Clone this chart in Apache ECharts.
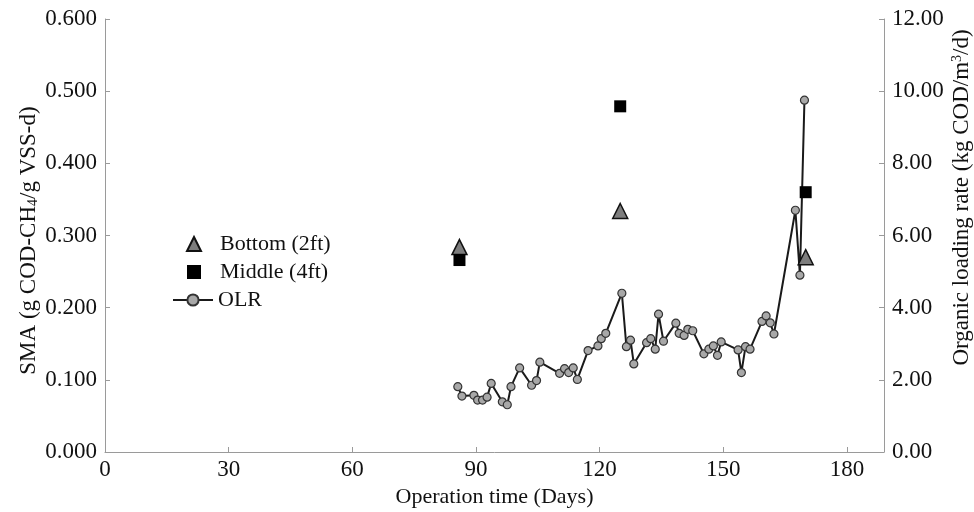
<!DOCTYPE html>
<html>
<head>
  <meta charset="utf-8">
  <title>SMA and OLR</title>
  <script src="https://cdn.jsdelivr.net/npm/echarts@6/dist/echarts.min.js"></script>
</head>
<body style="margin:0;background:#fff;">
  <div id="main" style="width:974px;height:512px;"></div>
  <script type="text/javascript">
    // SMA samples (left axis)
    var smaDays = [86, 125, 170];
    var bottom2ft = [0.284, 0.334, 0.270];
    var middle4ft = [0.266, 0.479, 0.360];

    // organic loading rate (right axis)
    var olrDays = [85.6, 86.6, 89.5, 90.4, 91.6, 92.7, 93.7, 96.4, 97.6, 98.5,
      100.6, 103.5, 104.7, 105.5, 110.3, 111.5, 112.5, 113.6, 114.6, 117.2,
      119.6, 120.4, 121.5, 125.4, 126.5, 127.5, 128.3, 131.4, 132.4, 133.5,
      134.3, 135.5, 138.5, 139.3, 140.5, 141.4, 142.6, 145.3, 146.5, 147.6,
      148.6, 149.5, 153.6, 154.4, 155.4, 156.5, 159.4, 160.4, 161.4, 162.3,
      167.5, 168.6, 169.7];
    var olr = [1.81, 1.55, 1.57, 1.44, 1.44, 1.52, 1.90, 1.39, 1.31, 1.81,
      2.33, 1.85, 1.98, 2.49, 2.18, 2.31, 2.20, 2.33, 2.01, 2.81,
      2.94, 3.14, 3.29, 4.40, 2.92, 3.10, 2.44, 3.03, 3.14, 2.85,
      3.82, 3.07, 3.57, 3.29, 3.23, 3.40, 3.36, 2.72, 2.85, 2.94,
      2.68, 3.05, 2.83, 2.20, 2.92, 2.85, 3.62, 3.77, 3.58, 3.27,
      6.70, 4.90, 9.75];

    var seriesNames = ['Bottom (2ft)', 'Middle (4ft)', 'OLR'];

    function pairs(xs, ys) {
      return xs.map(function (x, i) { return [x, ys[i]]; });
    }

    var font = 'Liberation Serif';
    var axisColor = '#9a9a9a';
    var legendText = { fontFamily: font, fontSize: 22, color: '#111' };

    var myChart = echarts.init(document.getElementById('main'));
    var option = {
      backgroundColor: '#fff',
      animation: false,
      textStyle: { fontFamily: font, color: '#111' },
      grid: { left: 105, right: 90, top: 19, bottom: 60, outerBoundsMode: 'none' },
      // two legends so the marker icons keep their size and the OLR icon stays long
      legend: [{
        data: seriesNames.slice(0, 2),
        orient: 'vertical',
        left: 186,
        top: 233,
        padding: 0,
        itemWidth: 14,
        itemHeight: 14,
        itemGap: 6,
        textStyle: Object.assign({ padding: [0, 0, 0, 14] }, legendText)
      }, {
        data: seriesNames.slice(2),
        orient: 'vertical',
        left: 172,
        top: 289,
        padding: 0,
        itemWidth: 40,
        itemHeight: 14,
        textStyle: legendText
      }],
      xAxis: {
        type: 'value',
        min: 0,
        max: 189,
        interval: 30,
        name: 'Operation time (Days)',
        nameLocation: 'middle',
        nameGap: 34,
        nameTextStyle: { fontFamily: font, fontSize: 22, color: '#111' },
        axisLine: { lineStyle: { color: axisColor } },
        axisTick: { inside: true, length: 5, lineStyle: { color: axisColor } },
        axisLabel: { showMaxLabel: false, margin: 6, fontFamily: font, fontSize: 23, color: '#111' },
        splitLine: { show: false }
      },
      yAxis: [{
        type: 'value',
        min: 0,
        max: 0.6,
        interval: 0.1,
        name: 'SMA (g COD-CH{sub|4}/g VSS-d)',
        nameLocation: 'middle',
        nameRotate: 90,
        nameGap: 65,
        nameMoveOverlap: false,
        nameTextStyle: {
          fontFamily: font, fontSize: 23, color: '#111',
          padding: [0, 10, 0, 0],
          rich: { sub: { fontFamily: font, fontSize: 14, verticalAlign: 'bottom', padding: [8, 0, 0, 0], color: '#111' } }
        },
        axisLine: { show: true, lineStyle: { color: axisColor } },
        axisTick: { show: true, inside: true, length: 5, lineStyle: { color: axisColor } },
        axisLabel: {
          margin: 8, fontFamily: font, fontSize: 23, color: '#111',
          formatter: function (v) { return v.toFixed(3); }
        },
        splitLine: { show: false }
      }, {
        type: 'value',
        min: 0,
        max: 12,
        interval: 2,
        position: 'right',
        name: 'Organic loading rate (kg COD/m{sup|3}/d)',
        nameLocation: 'middle',
        nameRotate: 90,
        nameGap: 66,
        nameMoveOverlap: false,
        nameTextStyle: {
          fontFamily: font, fontSize: 23, color: '#111',
          padding: [0, 0, 0, 76],
          rich: { sup: { fontFamily: font, fontSize: 14, verticalAlign: 'top', padding: [0, 0, 8, 0], color: '#111' } }
        },
        axisLine: { show: true, lineStyle: { color: axisColor } },
        axisTick: { show: true, inside: true, length: 5, lineStyle: { color: axisColor } },
        axisLabel: {
          margin: 8, fontFamily: font, fontSize: 23, color: '#111',
          formatter: function (v) { return v.toFixed(2); }
        },
        splitLine: { show: false }
      }],
      series: [{
        name: seriesNames[0],
        type: 'scatter',
        yAxisIndex: 0,
        z: 5,
        symbol: 'triangle',
        symbolSize: 15,
        itemStyle: { color: '#7d7d7d', borderColor: '#111', borderWidth: 1.5, opacity: 1 },
        data: pairs(smaDays, bottom2ft)
      }, {
        name: seriesNames[1],
        type: 'scatter',
        yAxisIndex: 0,
        z: 5,
        symbol: 'rect',
        symbolSize: 12,
        itemStyle: { color: '#000', opacity: 1 },
        data: pairs(smaDays, middle4ft)
      }, {
        name: seriesNames[2],
        type: 'line',
        yAxisIndex: 1,
        z: 3,
        symbol: 'circle',
        symbolSize: 8,
        showAllSymbol: true,
        lineStyle: { color: '#1a1a1a', width: 2 },
        itemStyle: { color: '#a8a8a8', borderColor: '#333', borderWidth: 1.2 },
        data: pairs(olrDays, olr)
      }]
    };
    myChart.setOption(option);
  </script>
</body>
</html>
